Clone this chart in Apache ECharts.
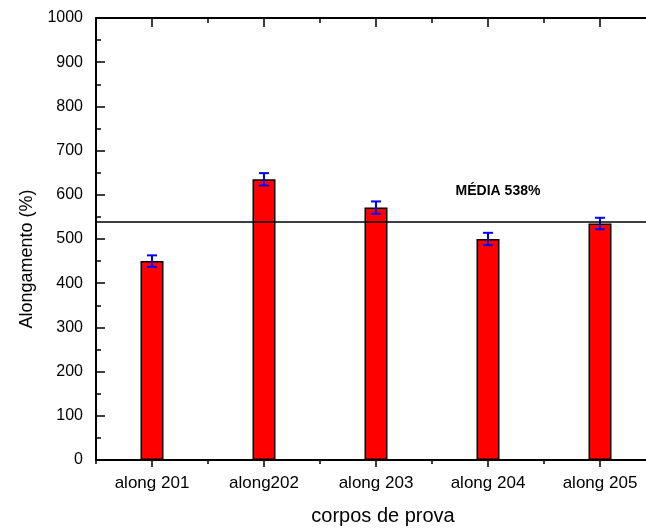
<!DOCTYPE html>
<html>
<head>
<meta charset="utf-8">
<script src="https://cdn.jsdelivr.net/npm/echarts@6/dist/echarts.min.js"></script>
<style>
  html, body { margin: 0; padding: 0; background: #fff; }
  #chart { width: 646px; height: 532px; }
</style>
</head>
<body>
<div id="chart"></div>
<script>
const categories = ['along 201', 'along202', 'along 203', 'along 204', 'along 205']
const values = [450, 635, 571, 500, 535]
const errors = [13, 14, 14, 14, 13]
const meanValue = 538
const yTicks = { min: 0, max: 1000, interval: 100 }

const font = '"Liberation Sans", Arial, sans-serif'
const chart = echarts.init(document.getElementById('chart'))

// eixos extras só para os ticks (centro e fronteira das categorias)
const tickAxis = (position, alignWithLabel, length, inside) => ({
  type: 'category',
  data: categories,
  position,
  axisLine: { show: false },
  axisLabel: { show: false },
  splitLine: { show: false },
  axisTick: {
    show: true,
    alignWithLabel,
    inside,
    length,
    lineStyle: { color: '#000', width: 1.5 }
  }
})

const option = {
  backgroundColor: '#fff',
  animation: false,
  // a figura original está cortada à direita
  grid: { left: 96, top: 18, width: 560, height: 442, outerBoundsMode: 'none', containLabel: false },
  xAxis: [
    {
      type: 'category',
      data: categories,
      position: 'bottom',
      name: 'corpos de prova',
      nameLocation: 'middle',
      nameGap: 46,
      nameTextStyle: { fontFamily: font, fontSize: 20, color: '#000', padding: [0, 0, 0, 14] },
      axisLine: { show: true, lineStyle: { color: '#000', width: 2 } },
      axisTick: { show: true, alignWithLabel: true, length: 7, lineStyle: { color: '#000', width: 1.5 } },
      axisLabel: { fontFamily: font, fontSize: 17, color: '#000', margin: 15 },
      splitLine: { show: false }
    },
    tickAxis('bottom', false, 4, false),
    Object.assign(tickAxis('top', true, 9, true), {
      axisLine: { show: true, lineStyle: { color: '#000', width: 2 } }
    }),
    tickAxis('top', false, 5, true)
  ],
  yAxis: {
    type: 'value',
    min: yTicks.min,
    max: yTicks.max,
    interval: yTicks.interval,
    name: 'Alongamento (%)',
    nameLocation: 'middle',
    nameGap: 47,
    nameTextStyle: { fontFamily: font, fontSize: 18, color: '#000', padding: [0, 40, 0, 0] },
    axisLine: { show: true, lineStyle: { color: '#000', width: 2 } },
    axisTick: { show: true, inside: true, length: 9, lineStyle: { color: '#000', width: 1.5 } },
    minorTick: { show: true, splitNumber: 2, length: 5, lineStyle: { color: '#000', width: 1.5 } },
    axisLabel: { fontFamily: font, fontSize: 16, color: '#000', margin: 13, formatter: (v) => String(v) },
    splitLine: { show: false }
  },
  series: [
    {
      name: 'Alongamento',
      type: 'bar',
      data: values,
      barWidth: 23,
      itemStyle: { color: '#ff0000', borderColor: '#000', borderWidth: 1.5 },
      markLine: {
        silent: true,
        symbol: 'none',
        label: { show: false },
        lineStyle: { color: '#000', width: 1.5, type: 'solid' },
        data: [{ yAxis: meanValue }],
        z: 10
      },
      markPoint: {
        symbolSize: 0,
        label: {
          show: true,
          formatter: 'MÉDIA ' + meanValue + '%',
          fontFamily: font,
          fontSize: 14,
          fontWeight: 'bold',
          color: '#000',
          offset: [10, 0]
        },
        data: [{ coord: [3, 609] }]
      }
    },
    {
      name: 'erro',
      type: 'custom',
      z: 5,
      data: values.map((v, i) => [i, v, errors[i]]),
      renderItem: (params, api) => {
        const i = api.value(0)
        const hi = api.coord([i, api.value(1) + api.value(2)])
        const lo = api.coord([i, api.value(1) - api.value(2)])
        const half = 5
        const style = { stroke: '#0000ff', lineWidth: 2 }
        return {
          type: 'group',
          children: [
            { type: 'line', shape: { x1: hi[0], y1: hi[1], x2: lo[0], y2: lo[1] }, style },
            { type: 'line', shape: { x1: hi[0] - half, y1: hi[1], x2: hi[0] + half, y2: hi[1] }, style },
            { type: 'line', shape: { x1: lo[0] - half, y1: lo[1], x2: lo[0] + half, y2: lo[1] }, style }
          ]
        }
      }
    }
  ]
}

chart.setOption(option)
</script>
</body>
</html>
